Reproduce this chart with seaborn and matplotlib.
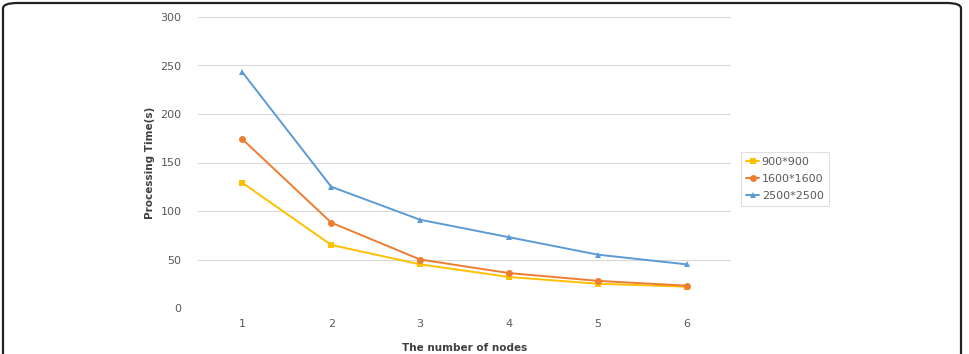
import matplotlib
matplotlib.use("Agg")
import matplotlib.pyplot as plt
import pandas as pd
import seaborn as sns
from matplotlib.patches import FancyBboxPatch


nodes = [1, 2, 3, 4, 5, 6]
series_names = ["900*900", "1600*1600", "2500*2500"]
time_900 = [129, 65, 45, 32, 25, 22]
time_1600 = [174, 88, 50, 36, 28, 23]
time_2500 = [243, 125, 91, 73, 55, 45]

colors = ["#FFC000", "#ED7D31", "#5B9BD5"]
markers = ["s", "o", "^"]

rows = []
for name, vals in zip(series_names, [time_900, time_1600, time_2500]):
    for n, v in zip(nodes, vals):
        rows.append({"nodes": n, "time": v, "size": name})
df = pd.DataFrame(rows)

sns.set_style("white")
plt.rcParams["font.family"] = ["DejaVu Sans"]

fig = plt.figure(figsize=(9.69, 3.54), dpi=100)
ax = fig.add_axes([198 / 969, (354 - 308) / 354, (731 - 198) / 969, (308 - 17) / 354])

sns.lineplot(data=df, x="nodes", y="time", hue="size", style="size",
             palette=colors, markers=markers, dashes=False, markersize=5,
             markeredgewidth=0, linewidth=1.4, ax=ax)

ax.set_xlim(0.5, 6.5)
ax.set_ylim(0, 300)
ax.set_xticks(nodes)
ax.set_yticks(range(0, 301, 50))
ax.yaxis.grid(True, color="#D9D9D9", linewidth=0.8)
ax.set_axisbelow(True)
for s in ax.spines.values():
    s.set_visible(False)
ax.tick_params(axis="both", length=0, labelsize=8, labelcolor="#595959")
ax.tick_params(axis="y", pad=12)
ax.tick_params(axis="x", pad=8)
ax.set_xlabel("The number of nodes", fontsize=7.5, fontweight="bold", color="#404040", labelpad=10)
ax.set_ylabel("Processing Time(s)", fontsize=7.5, fontweight="bold", color="#404040", labelpad=4)

leg = ax.legend(loc="center left", bbox_to_anchor=(735 / 969, 175 / 354),
                bbox_transform=fig.transFigure, fontsize=8, frameon=True,
                handlelength=1.2, handletextpad=0.2, labelspacing=0.6,
                borderpad=0.5, fancybox=False)
leg.get_frame().set_edgecolor("#D9D9D9")
leg.get_frame().set_linewidth(0.8)
for t in leg.get_texts():
    t.set_color("#595959")

border = FancyBboxPatch((3 / 969, -0.1), 958 / 969, 1.1 - 3 / 354,
                        boxstyle="round,pad=0,rounding_size=0.015",
                        transform=fig.transFigure, fill=False,
                        edgecolor="#222222", linewidth=1.6, clip_on=False)
fig.patches.append(border)

fig.savefig("out.png", dpi=100)
